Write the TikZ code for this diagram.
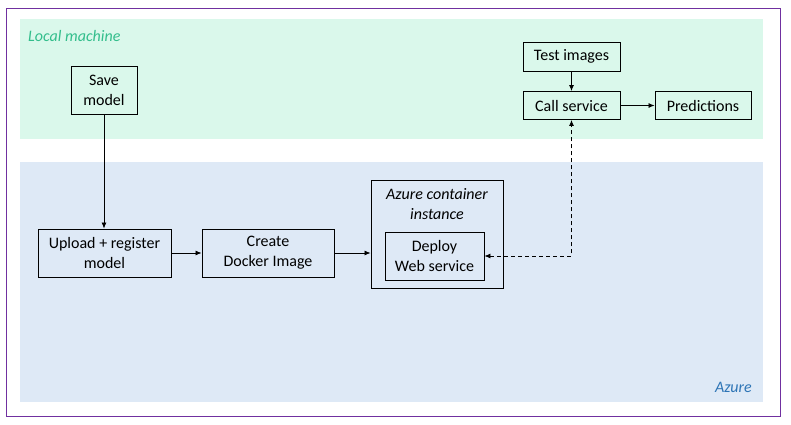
\documentclass[tikz,border=0pt]{standalone}
\usepackage{fontspec}
\setmainfont{Carlito}
\usepackage{xcolor}
\usetikzlibrary{positioning,arrows.meta}
\definecolor{localfill}{RGB}{218,248,235}
\definecolor{azurefill}{RGB}{222,233,246}
\definecolor{localtext}{RGB}{51,190,140}
\definecolor{azuretext}{RGB}{46,117,182}
\definecolor{framepurple}{RGB}{112,48,160}

\begin{document}
\begin{tikzpicture}[x=1pt,y=-1pt,
    box/.style={draw, line width=0.9pt, inner sep=0pt, align=center, font=\fontsize{16}{20}\selectfont},
    tag/.style={inner sep=0pt, font=\fontsize{16}{20}\selectfont\itshape},
    arr/.style={-{Latex[length=6pt,width=5pt]}, line width=0.8pt},
    dasharr/.style={{Latex[length=6pt,width=5pt]}-{Latex[length=6pt,width=5pt]}, line width=0.8pt, dash pattern=on 4pt off 3pt}]
    \useasboundingbox (0,0) rectangle (791,424);
    \draw [framepurple, line width=1pt] (6,8) rectangle (780,416);

    % Areas
    \fill [localfill] (20,19) rectangle (763,139);
    \fill [azurefill] (20,162) rectangle (763,402);
    \node [tag, localtext, anchor=west] (localtag) at (28,36) {Local machine};
    \node [tag, azuretext, anchor=east] (azuretag) at (752,387) {Azure};

    % Local machine
    \node [box, minimum width=66, minimum height=48] (save) at (104,90) {Save\\model};
    \node [box, minimum width=97, minimum height=29] (test) at (571.5,56.5) {Test images};
    \node [box, minimum width=97, minimum height=28] (call) at (571.5,105.5) {Call service};
    \node [box, minimum width=96, minimum height=28] (pred) at (703,105.5) {Predictions};

    % Azure
    \node [box, minimum width=133, minimum height=48] (upload) at (104.5,253) {Upload + register\\model};
    \node [box, minimum width=132, minimum height=48] (docker) at (268,253) {Create\\Docker Image};
    \node [box, minimum width=132, minimum height=108] (aci) at (437,234) {};
    \node [tag, align=center] (acilabel) at (437,204.5) {Azure container\\instance};
    \node [box, minimum width=99, minimum height=48] (deploy) at (434.5,256) {Deploy\\Web service};

    % Arrows
    \draw [arr] (save.south) -- (save.south |- upload.north);
    \draw [arr] (test) -- (call);
    \draw [arr] (call) -- (pred);
    \draw [arr] (upload) -- (docker);
    \draw [arr] (docker.east) -- (docker.east -| aci.west);
    \draw [dasharr] (deploy.east) -| (call.south);
\end{tikzpicture}
\end{document}
